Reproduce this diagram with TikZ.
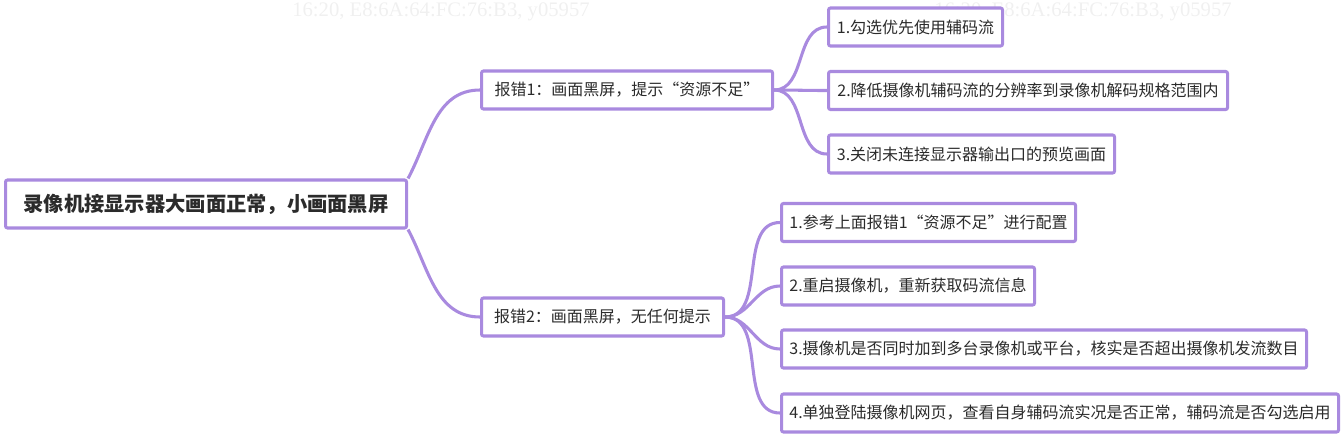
\documentclass[tikz,border=0pt]{standalone}
\usepackage{fontspec}
\newfontfamily\cjk{Noto Sans CJK SC}
\newfontfamily\wmfont{Liberation Serif}
\usepackage{tikz}
\usetikzlibrary{positioning}
\usepackage{xcolor}
\definecolor{lavender}{HTML}{A98ADF}
\definecolor{inkgray}{HTML}{2B2B2B}

\begin{document}
\begin{tikzpicture}[x=0.75pt, y=-0.75pt,
    rootCard/.style={draw=lavender, fill=white, line width=2.3pt, rounded corners=1.5pt, anchor=west, font=\cjk\fontsize{15.2pt}{18pt}\selectfont\bfseries, text=inkgray, minimum height=36pt, inner xsep=0pt},
    errCard/.style={draw=lavender, fill=white, line width=2.3pt, rounded corners=1.5pt, anchor=west, font=\cjk\fontsize{12pt}{14pt}\selectfont, text=inkgray, minimum height=28.5pt, inner xsep=0pt},
    fixCard/.style={errCard},
    wmText/.style={font=\wmfont\fontsize{15.5pt}{18pt}\selectfont, text=black!6, anchor=base west, inner sep=0pt},
    linkStyle/.style={draw=lavender, line width=2.3pt}
]
    \useasboundingbox (0,0) rectangle (1342,436);

    % Filigrana
    \node[wmText] (wmA) at (292,16) {16:20, E8:6A:64:FC:76:B3, y05957};
    \node[wmText] (wmB) at (934,16) {16:20, E8:6A:64:FC:76:B3, y05957};

    % Radice
    \node[rootCard, minimum width=300.75pt] (root) at (4,204) {录像机接显示器大画面正常，小画面黑屏};

    % Due rami
    \node[errCard, minimum width=218.25pt] (err1) at (480,90) {报错1：画面黑屏，提示“资源不足”};
    \node[errCard, minimum width=181.5pt] (err2) at (480,317) {报错2：画面黑屏，无任何提示};

    % Soluzioni ramo 1
    \node[fixCard, minimum width=130.5pt] (fixA1) at (827,27) {1.勾选优先使用辅码流};
    \node[fixCard, minimum width=299.25pt] (fixA2) at (827,90.5) {2.降低摄像机辅码流的分辨率到录像机解码规格范围内};
    \node[fixCard, minimum width=214.5pt] (fixA3) at (827,154) {3.关闭未连接显示器输出口的预览画面};

    % Soluzioni ramo 2
    \node[fixCard, minimum width=220.5pt] (fixB1) at (780,222.5) {1.参考上面报错1“资源不足”进行配置};
    \node[fixCard, minimum width=189.75pt] (fixB2) at (780,286) {2.重启摄像机，重新获取码流信息};
    \node[fixCard, minimum width=393.75pt] (fixB3) at (780,349) {3.摄像机是否同时加到多台录像机或平台，核实是否超出摄像机发流数目};
    \node[fixCard, minimum width=417.75pt] (fixB4) at (780,413) {4.单独登陆摄像机网页，查看自身辅码流实况是否正常，辅码流是否勾选启用};

    % Collegamenti
    \draw[linkStyle] (root.north east) to[out=62, in=180] (err1.west);
    \draw[linkStyle] (root.south east) to[out=-62, in=180] (err2.west);
    \foreach \k in {fixA1,fixA2,fixA3}
        \draw[linkStyle] (err1.east) to[out=0, in=180] (\k.west);
    \foreach \k in {fixB1,fixB2,fixB3,fixB4}
        \draw[linkStyle] (err2.east) to[out=0, in=180] (\k.west);
\end{tikzpicture}
\end{document}
